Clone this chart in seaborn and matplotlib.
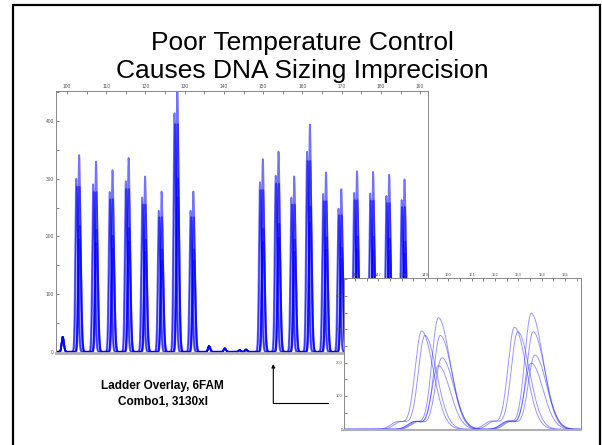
import numpy as np
import pandas as pd
import seaborn as sns
import matplotlib.pyplot as plt
from matplotlib.patches import Rectangle
from matplotlib.ticker import MultipleLocator

# peak table (size in bp, tallest overlay in RFU)
main_sizes = [103.1, 107.4, 111.6, 115.7, 119.9, 124.1, 128.1, 132.2,
              149.9, 153.9, 157.9, 161.9, 166.0, 169.9, 173.9, 178.0, 182.1, 186.0]
main_heights = [341, 330, 315, 336, 304, 278, 470, 278,
                334, 347, 304, 394, 311, 282, 313, 312, 307, 299]
# small bumps on the baseline
bump_sizes = [98.9, 136.2, 140.2, 144.0, 145.6]
bump_heights = [26, 10, 6, 3, 4]

# six overlaid runs: size shift and relative height of each run
trace_names = ["run1", "run2", "run3", "run4", "run5", "run6"]
trace_shift = [-0.72, -0.58, 0.0, 0.08, 0.15, 0.0]
trace_scale = [0.88, 0.84, 1.0, 0.84, 0.64, 0.57]

# zoomed window (inset)
inset_sizes = [149.57, 153.55]
inset_heights = [335, 348]

blue = "#0000ff"


def peak(x, mu, h, sl, sr):
    s = np.where(x < mu, sl, sr)
    return h * np.exp(-0.5 * ((x - mu) / s) ** 2)


def build(x, sizes, heights, sl, sr, shoulder):
    rows = []
    for name, dx, k in zip(trace_names, trace_shift, trace_scale):
        y = np.zeros_like(x)
        for mu, h in zip(sizes, heights):
            y += peak(x, mu + dx, h * k, sl, sr)
            y += peak(x, mu + dx - 1.0, h * shoulder, 0.3, 0.3)
        rows.append(pd.DataFrame({"size": x, "rfu": y, "run": name}))
    return pd.concat(rows, ignore_index=True)


sns.set_theme(style="white")
plt.rcParams["font.family"] = ["Liberation Sans", "DejaVu Sans"]

fig = plt.figure(figsize=(6.02, 4.45), dpi=100)

# main chart
xm = np.linspace(97.2, 192, 6000)
dfm = build(xm, main_sizes, main_heights, 0.27, 0.36, 0.0)
base = np.zeros_like(xm)
for mu, h in zip(bump_sizes, bump_heights):
    base += peak(xm, mu, h, 0.25, 0.3)
dfm["rfu"] += np.tile(base, len(trace_names))

ax = fig.add_axes([0.093, 0.2067, 0.618, 0.5888])
sns.lineplot(data=dfm, x="size", y="rfu", hue="run", palette=[blue] * 6,
             estimator=None, legend=False, lw=1.3, alpha=0.55, ax=ax)
ax.set_xlim(97.2, 192)
ax.set_ylim(-2, 452)
ax.xaxis.set_major_locator(MultipleLocator(10))
ax.xaxis.set_minor_locator(MultipleLocator(5))
ax.yaxis.set_major_locator(MultipleLocator(100))
ax.yaxis.set_minor_locator(MultipleLocator(50))
ax.xaxis.tick_top()
ax.tick_params(which="both", direction="in", length=2, width=0.5, colors="#555555",
               labelsize=3.5, pad=1.5, top=True, bottom=False, left=True)
ax.set_xlabel("")
ax.set_ylabel("")
for s in ax.spines.values():
    s.set_color("#888888")
    s.set_linewidth(0.7)
ax.spines["bottom"].set_color("#b0b0b0")
ax.spines["bottom"].set_linewidth(2)

# inset zoom
xi = np.linspace(145.54, 155.67, 3000)
dfi = build(xi, inset_sizes, inset_heights, 0.28, 0.5, 0.07)
ai = fig.add_axes([0.572, 0.0337, 0.3927, 0.341])
ai.set_facecolor("white")
sns.lineplot(data=dfi, x="size", y="rfu", hue="run", palette=["#3030ff"] * 6,
             estimator=None, legend=False, lw=0.7, alpha=0.5, ax=ai)
ai.set_xlim(145.54, 155.67)
ai.set_ylim(-2, 453)
ai.xaxis.set_major_locator(MultipleLocator(1))
ai.xaxis.set_minor_locator(MultipleLocator(0.5))
ai.yaxis.set_major_locator(MultipleLocator(100))
ai.yaxis.set_minor_locator(MultipleLocator(50))
ai.xaxis.tick_top()
ai.tick_params(which="both", direction="in", length=1.8, width=0.5, colors="#555555",
               labelsize=3, pad=1.2, top=True, bottom=False, left=True)
ai.set_xlabel("")
ai.set_ylabel("")
for s in ai.spines.values():
    s.set_color("#888888")
    s.set_linewidth(0.7)
ai.spines["bottom"].set_color("#b0b0b0")
ai.spines["bottom"].set_linewidth(1.5)

# titles and caption
fig.text(0.503, 1 - 50 / 445, "Poor Temperature Control", ha="center", va="baseline",
         fontsize=19, color="black")
fig.text(0.503, 1 - 78 / 445, "Causes DNA Sizing Imprecision", ha="center", va="baseline",
         fontsize=19, color="black")
fig.text(0.270, 1 - 386 / 445, "Ladder Overlay, 6FAM", ha="center", va="center",
         fontsize=8.5, weight="bold", color="black")
fig.text(0.270, 1 - 402 / 445, "Combo1, 3130xl", ha="center", va="center",
         fontsize=8.5, weight="bold", color="black")

# pointer from inset to main chart
fig.add_artist(plt.Line2D([328.3 / 602, 273.3 / 602], [41.7 / 445, 41.7 / 445],
                          color="black", lw=0.8, transform=fig.transFigure))
ax.annotate("", xy=(273.3, 81), xytext=(273.3, 41.7), xycoords="figure pixels",
            textcoords="figure pixels",
            arrowprops=dict(arrowstyle="-|>", color="black", lw=0.8,
                            mutation_scale=5, shrinkA=0, shrinkB=0))

# slide frame
fig.add_artist(Rectangle((13 / 602, -0.05), 587 / 602, 1.05 - 5.5 / 445,
                         transform=fig.transFigure, fill=False, edgecolor="black",
                         lw=1.6, clip_on=False))

fig.savefig("out.png", dpi=100)
